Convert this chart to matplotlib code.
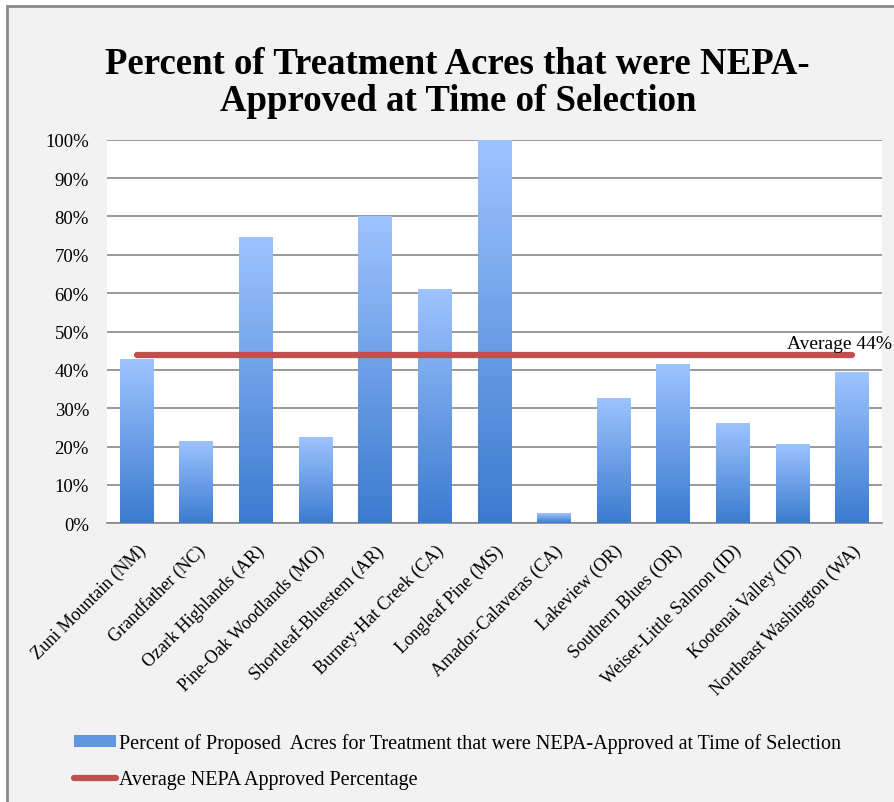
import matplotlib
matplotlib.use("Agg")
import matplotlib.pyplot as plt
import numpy as np
from matplotlib.patches import Rectangle
from matplotlib.lines import Line2D
from matplotlib.colors import LinearSegmentedColormap

# Data
projects = [
    "Zuni Mountain (NM)", "Grandfather (NC)", "Ozark Highlands (AR)",
    "Pine-Oak Woodlands (MO)", "Shortleaf-Bluestem (AR)", "Burney-Hat Creek (CA)",
    "Longleaf Pine (MS)", "Amador-Calaveras (CA)", "Lakeview (OR)",
    "Southern Blues (OR)", "Weiser-Little Salmon (ID)", "Kootenai Valley (ID)",
    "Northeast Washington (WA)",
]
pct_approved = [42.8, 21.4, 74.6, 22.4, 80.1, 61.1, 100.0, 2.6, 32.6, 41.5, 26.1, 20.7, 39.4]
average_pct = 44
y_ticks = [0, 10, 20, 30, 40, 50, 60, 70, 80, 90, 100]
bar_label = "Percent of Proposed  Acres for Treatment that were NEPA-Approved at Time of Selection"
line_label = "Average NEPA Approved Percentage"
title = "Percent of Treatment Acres that were NEPA-\nApproved at Time of Selection"

serif = ["Liberation Serif", "DejaVu Serif"]
plt.rcParams["font.family"] = serif

fig = plt.figure(figsize=(8.94, 8.03), dpi=100)
fig.patch.set_facecolor("white")
# chart frame
fig.add_artist(Rectangle((7 / 894, -0.05), 1.2, 1 - 7 / 803 + 0.05,
                         transform=fig.transFigure, facecolor="#f2f2f2",
                         edgecolor="#8a8a8a", linewidth=2, zorder=-10))

ax = fig.add_axes([107 / 894, 1 - 524.3 / 803, (882 - 107) / 894, (524.3 - 140.7) / 803])
ax.set_facecolor("white")

x = np.arange(len(projects))
cmap = LinearSegmentedColormap.from_list("bar", ["#3b7bcf", "#9ec4ff"])
grad = np.linspace(0, 1, 256).reshape(-1, 1)
bars = ax.bar(x, pct_approved, width=0.57, color="none", zorder=3)
for b in bars:
    bx, by = b.get_x(), b.get_y()
    w, h = b.get_width(), b.get_height()
    im = ax.imshow(grad, cmap=cmap, aspect="auto", origin="lower",
                   extent=(bx, bx + w, by, by + h), zorder=3)
    im.set_clip_path(b)

ax.plot([x[0], x[-1]], [average_pct, average_pct], color="#c0504d", linewidth=4.5,
        solid_capstyle="round", zorder=4)
ax.text(x[-1] + 0.67, average_pct + 0.6, f"Average {average_pct}%", ha="right",
        va="bottom", fontsize=14, zorder=5)

ax.set_xlim(-0.5, len(projects) - 0.5)
ax.set_ylim(0, 100)
ax.set_yticks(y_ticks)
ax.set_yticklabels([f"{v}%" for v in y_ticks], fontsize=13.5)
ax.set_xticks(x)
ax.set_xticklabels(projects, rotation=45, ha="right", rotation_mode="anchor",
                   fontsize=13)
ax.tick_params(axis="both", length=0)
ax.tick_params(axis="x", pad=13)
ax.tick_params(axis="y", pad=13)
ax.grid(axis="y", color="#888888", linewidth=1.2, zorder=1)
ax.set_axisbelow(True)
for s in ["top", "right", "left"]:
    ax.spines[s].set_visible(False)
ax.spines["bottom"].set_color("#888888")
ax.spines["bottom"].set_linewidth(1.2)

fig.text(0.512, 0.897, title, ha="center", va="center", fontsize=26.5,
         fontweight="bold", linespacing=1.08)

handles = [Rectangle((0, 0), 1, 1, facecolor="#5f97e2", edgecolor="none"),
           Line2D([], [], color="#c0504d", linewidth=4.5, solid_capstyle="round")]
leg = fig.legend(handles, [bar_label, line_label], loc="upper left",
                 bbox_to_anchor=(66 / 894, 1 - 726 / 803), frameon=False, fontsize=14.5,
                 handlelength=2.1, handleheight=0.5, handletextpad=0.15,
                 labelspacing=0.85, borderaxespad=0)

fig.savefig("out.png", dpi=100, facecolor=fig.get_facecolor())
